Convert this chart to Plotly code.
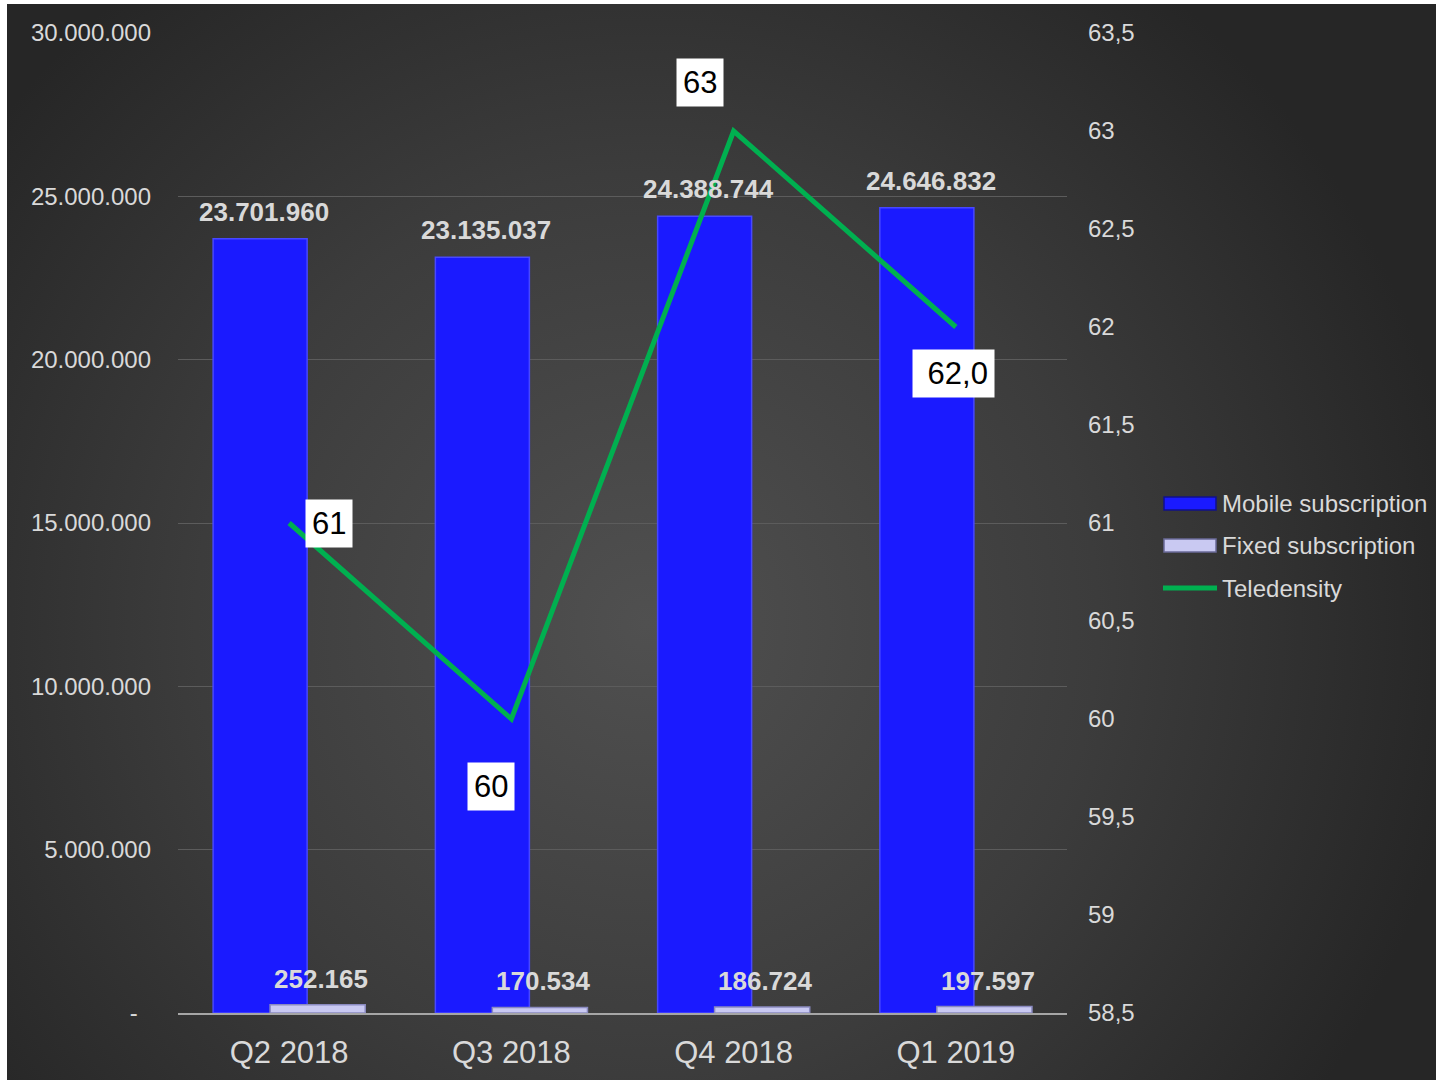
import base64
import plotly.graph_objects as go

# ---------------- data ----------------
categories = ["Q2 2018", "Q3 2018", "Q4 2018", "Q1 2019"]
mobile = [23701960, 23135037, 24388744, 24646832]
fixed = [252165, 170534, 186724, 197597]
teledensity = [61, 60, 63, 62]
teledensity_labels = ["61", "60", "63", "&nbsp;62,0"]
mobile_labels = ["23.701.960", "23.135.037", "24.388.744", "24.646.832"]
fixed_labels = ["252.165", "170.534", "186.724", "197.597"]
left_ticks = [0, 5000000, 10000000, 15000000, 20000000, 25000000, 30000000]
left_ticktext = ["-&nbsp;&nbsp;", "5.000.000", "10.000.000", "15.000.000", "20.000.000", "25.000.000", "30.000.000"]
right_ticks = [58.5, 59, 59.5, 60, 60.5, 61, 61.5, 62, 62.5, 63, 63.5]
right_ticktext = ["58,5", "59", "59,5", "60", "60,5", "61", "61,5", "62", "62,5", "63", "63,5"]
series_names = ["Mobile subscription", "Fixed subscription", "Teledensity"]

# ---------------- layout geometry ----------------
W, H = 1436, 1082
L, R, T, B = 178, 1067, 33, 1013  # plot area in px
PW, PH = R - L, B - T


def px_x(px):
    return (px - L) / PW


def px_y(py):
    return (B - py) / PH


FONT = "Liberation Sans, Arial, sans-serif"
TXT = "#d9d9d9"
BLUE = "#1a1aff"
FIXED = "#c9c9f2"
GREEN = "#00b050"

# background radial gradient (svg data uri)
bw, bh = W - 7, 1080 - 4
svg = (
    f"<svg xmlns='http://www.w3.org/2000/svg' width='{bw}' height='{bh}' viewBox='0 0 {bw} {bh}' preserveAspectRatio='none'>"
    "<defs><radialGradient id='g' gradientUnits='userSpaceOnUse' cx='640' cy='620' r='820'>"
    "<stop offset='0' stop-color='#505050'/><stop offset='0.55' stop-color='#3c3c3c'/><stop offset='1' stop-color='#262626'/>"
    "</radialGradient></defs>"
    f"<rect width='{bw}' height='{bh}' fill='url(#g)'/></svg>"
)
svg_uri = "data:image/svg+xml;base64," + base64.b64encode(svg.encode()).decode()

fig = go.Figure()

fig.add_trace(go.Bar(
    x=categories, y=mobile, name=series_names[0],
    width=0.423, offset=-0.342,
    marker=dict(color=BLUE, line=dict(color="#4848ff", width=1.5)),
    showlegend=False, hoverinfo="y",
))
fig.add_trace(go.Bar(
    x=categories, y=fixed, name=series_names[1],
    width=0.428, offset=-0.0856,
    marker=dict(color=FIXED, line=dict(color="#8a8ac0", width=1.5)),
    showlegend=False, hoverinfo="y",
))
fig.add_trace(go.Scatter(
    x=categories, y=teledensity, name=series_names[2], yaxis="y2",
    mode="lines", line=dict(color=GREEN, width=5),
    showlegend=False, hoverinfo="y",
))

annotations = []
# bar value labels
for c, v, t in zip(categories, mobile, mobile_labels):
    annotations.append(dict(x=c, y=v, xref="x", yref="y", text=f"<b>{t}</b>", showarrow=False,
                            xshift=-25, yanchor="bottom", yshift=10,
                            font=dict(family=FONT, size=26, color=TXT)))
for c, v, t in zip(categories, fixed, fixed_labels):
    annotations.append(dict(x=c, y=v, xref="x", yref="y", text=f"<b>{t}</b>", showarrow=False,
                            xshift=32, yanchor="bottom", yshift=9,
                            font=dict(family=FONT, size=26, color=TXT)))
# line labels (boxed)
line_shifts = [(40, 0), (-20, -67), (-34, 49), (-2, -46)]
for c, v, t, (dx, dy) in zip(categories, teledensity, teledensity_labels, line_shifts):
    annotations.append(dict(x=c, y=v, xref="x", yref="y2", text=t, showarrow=False,
                            xshift=dx, yshift=dy, bgcolor="white", borderpad=6,
                            font=dict(family=FONT, size=31, color="black")))

# custom legend
shapes = []
leg_rows = [503, 545, 588]
shapes.append(dict(type="rect", xref="paper", yref="paper",
                   x0=px_x(1164), x1=px_x(1216), y0=px_y(510), y1=px_y(497),
                   fillcolor=BLUE, line=dict(color="#10108a", width=1.5)))
shapes.append(dict(type="rect", xref="paper", yref="paper",
                   x0=px_x(1164), x1=px_x(1216), y0=px_y(552), y1=px_y(539),
                   fillcolor=FIXED, line=dict(color="#6a6a98", width=1.5)))
shapes.append(dict(type="line", xref="paper", yref="paper",
                   x0=px_x(1163), x1=px_x(1217), y0=px_y(588), y1=px_y(588),
                   line=dict(color=GREEN, width=5)))
for name, py in zip(series_names, leg_rows):
    annotations.append(dict(x=px_x(1220), y=px_y(py), xref="paper", yref="paper", text=name,
                            showarrow=False, xanchor="left", yanchor="middle",
                            font=dict(family=FONT, size=24, color=TXT)))

fig.update_layout(
    width=W, height=H,
    margin=dict(l=L, r=W - R, t=T, b=H - B, pad=0, autoexpand=False),
    paper_bgcolor="white", plot_bgcolor="rgba(0,0,0,0)",
    barmode="overlay",
    showlegend=False,
    font=dict(family=FONT, color=TXT),
    images=[dict(source=svg_uri, xref="paper", yref="paper",
                 x=px_x(7), y=px_y(4), sizex=bw / PW, sizey=bh / PH,
                 xanchor="left", yanchor="top", sizing="stretch", layer="below")],
    xaxis=dict(range=[-0.5, 3.5], showgrid=False, showline=True, linecolor="#a6a6a6", linewidth=2,
               ticks="", tickfont=dict(family=FONT, size=31, color=TXT), ticklabelstandoff=11,
               fixedrange=True, automargin=False),
    yaxis=dict(range=[0, 30000000], tickvals=left_ticks, ticktext=left_ticktext,
               showgrid=True, gridcolor="#5c5c5c", gridwidth=1, zeroline=False, showline=False,
               ticks="", tickfont=dict(family=FONT, size=24, color=TXT), ticklabelstandoff=26,
               automargin=False),
    yaxis2=dict(range=[58.5, 63.5], tickvals=right_ticks, ticktext=right_ticktext,
                overlaying="y", side="right", showgrid=False, zeroline=False, showline=False,
                ticks="", tickfont=dict(family=FONT, size=24, color=TXT), ticklabelstandoff=20,
                automargin=False),
    annotations=annotations,
    shapes=shapes,
)

fig.write_html("out.html")
